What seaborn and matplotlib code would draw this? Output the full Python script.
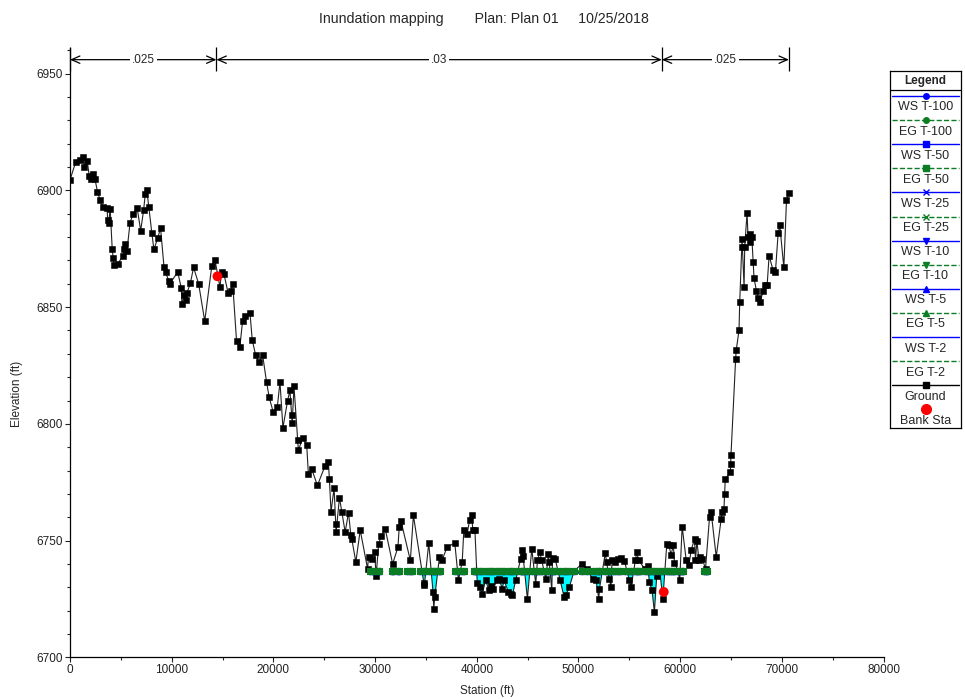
import matplotlib
matplotlib.use('Agg')
import matplotlib.pyplot as plt
import seaborn as sns
import pandas as pd
import numpy as np

# ground points (station ft / elevation ft)
station = [0, 550, 1000, 1300, 1400, 1700, 1900, 2100, 2300, 2450,
           2700, 2950, 3250, 3650, 3700, 3800, 3950, 4150, 4250, 4350,
           4700, 5200, 5350, 5450, 5600, 5900, 6200, 6600, 6950, 7250,
           7400, 7550, 7750, 8050, 8250, 8650, 8900, 9250, 9400, 9700,
           9800, 10600, 10950, 11000, 11250, 11400, 11500, 11850, 12150, 12650,
           13250, 13950, 14250, 14750, 14900, 15150, 15550, 15800, 16000, 16380,
           16700, 16970, 17200, 17700, 17920, 18250, 18570, 18940, 19330, 19590,
           19990, 20390, 20650, 20940, 21400, 21630, 21800, 21850, 22030, 22390,
           22460, 22880, 23280, 23440, 23770, 24330, 25080, 25410, 25510, 25670,
           25970, 26140, 26170, 26500, 26730, 27060, 27390, 27620, 27720, 28110,
           28540, 29260, 29360, 29690, 29950, 30110, 30350, 30610, 31000, 31730,
           32250, 32380, 32550, 33470, 33770, 34790, 34850, 35280, 35700, 35770,
           35870, 36330, 36600, 37090, 37840, 38200, 38570, 38730, 39060, 39290,
           39490, 39620, 39820, 40050, 40280, 40540, 40870, 41200, 41360, 41600,
           42020, 42190, 42510, 42680, 43110, 43330, 43500, 43830, 44320, 44420,
           44560, 44980, 45410, 45800, 45970, 46200, 46390, 46790, 47050, 47120,
           47380, 47450, 47710, 48200, 48590, 48760, 49100, 49580, 50340, 50800,
           51410, 51740, 52000, 52070, 52640, 52770, 53040, 53200, 53300, 53630,
           53860, 54180, 54520, 55010, 55170, 55600, 55730, 55930, 56500, 56820,
           56980, 57240, 57470, 57700, 58000, 58300, 58690, 58890, 59110, 59340,
           59440, 59800, 59960, 60200, 60600, 60860, 61090, 61420, 61510, 61650,
           61850, 61980, 62170, 62500, 62890, 63050, 63550, 64040, 64140, 64310,
           64380, 64440, 64940, 64970, 65000, 65460, 65520, 65790, 65860, 66060,
           66090, 66290, 66350, 66580, 66680, 66850, 66900, 67050, 67180, 67270,
           67500, 67670, 67840, 68160, 68330, 68560, 68750, 69150, 69370, 69640,
           69800, 70200, 70460, 70730]
elevation = [6904.5, 6912, 6913, 6914.5, 6910, 6912.5, 6906, 6905, 6907, 6905,
             6899.5, 6896, 6892.8, 6892.4, 6887.5, 6886, 6892, 6875, 6871, 6868,
             6868.5, 6872, 6875, 6877, 6874, 6886, 6890, 6892.6, 6882.8, 6891.8,
             6898.6, 6900, 6893, 6881.6, 6874.7, 6879.8, 6884, 6867, 6865, 6861.4,
             6860, 6865, 6858, 6851.5, 6855, 6853, 6856, 6860.5, 6867, 6860,
             6844, 6867.8, 6870.4, 6858.5, 6865, 6864, 6856, 6857, 6860, 6835.4,
             6832.8, 6844, 6846.4, 6847.5, 6836, 6829.5, 6826.4, 6829.5, 6817.9, 6811.3,
             6805, 6807.4, 6817.9, 6798.3, 6810, 6814.3, 6803.6, 6800.3, 6816, 6793,
             6788.6, 6794, 6790.8, 6778.6, 6780.7, 6773.6, 6782, 6783.6, 6776.2, 6762.2,
             6772.6, 6757, 6753.6, 6768.4, 6762.2, 6753.6, 6762, 6752.2, 6750.5, 6740.8,
             6754.5, 6738, 6743, 6742.2, 6745, 6735, 6748.6, 6752, 6755, 6740,
             6747.2, 6756, 6758.3, 6741.5, 6760.8, 6732, 6730.8, 6749, 6728, 6720.8,
             6725.8, 6743, 6741.8, 6747.2, 6749, 6733, 6741, 6754.5, 6753, 6758.6,
             6760.8, 6754.4, 6754.4, 6731.7, 6730.1, 6727.2, 6733, 6728.7, 6730.4, 6729.4,
             6733, 6733.6, 6729.4, 6733, 6728, 6727.2, 6726.5, 6733, 6742.2, 6745.8,
             6743.2, 6725, 6746.5, 6731.4, 6741.5, 6745, 6741.5, 6733.5, 6744.4, 6741,
             6728.7, 6742.7, 6742.2, 6733, 6725.8, 6726.5, 6730, 6737, 6740, 6738,
             6733.5, 6733, 6725, 6729.4, 6744.6, 6740.8, 6733.5, 6730, 6741.5, 6741,
             6742.2, 6742.7, 6741.3, 6733, 6730, 6741.5, 6745, 6741.5, 6738, 6739,
             6732.2, 6728.7, 6719.4, 6735, 6737, 6725, 6748.6, 6748, 6744, 6748,
             6740.4, 6737, 6733, 6756, 6741.5, 6739.4, 6746, 6750.7, 6741.5, 6750,
             6741.5, 6743, 6742.2, 6738, 6760, 6762.2, 6743, 6759.4, 6762.2, 6763.6,
             6770, 6776.4, 6779.3, 6782.8, 6786.5, 6827.9, 6831.7, 6840, 6852, 6875.7,
             6879.2, 6858.5, 6875.6, 6890.3, 6880, 6877.8, 6881.4, 6880, 6869.2, 6862.4,
             6857, 6854, 6852.1, 6856.7, 6859.6, 6859.6, 6872, 6865.7, 6865, 6881.7,
             6885, 6867, 6895.8, 6899]

bank_sta = [14500, 58390]
bank_elev = [6863.2, 6728.0]

# manning's n regions
n_breaks = [0, 14400, 58200, 70700]
n_values = ['.025', '.03', '.025']

# reaches where the water surface is drawn
wet_start = [29500, 31660, 33150, 34430, 37880, 39750, 54600, 56100, 62350]
wet_end = [30380, 32350, 33640, 36400, 38700, 54100, 55850, 60250, 62600]

profiles = ['T-100', 'T-50', 'T-25', 'T-10', 'T-5', 'T-2']
ws_elev = [6736.5, 6736.5, 6736.5, 6736.5, 6736.5, 6736.5]
eg_elev = [6737.0, 6737.0, 6737.0, 6737.0, 6737.0, 6737.0]
prof_markers = ['o', 's', 'x', 'v', '^', '']

WS_COL = '#0000ff'
EG_COL = '#0b7d24'
FS = 8.5

sns.set_theme(style='ticks')
plt.rcParams['font.family'] = ['Liberation Sans', 'DejaVu Sans']

ground = pd.DataFrame({'station': station, 'elev': elevation})

rows = []
for k, (a, b) in enumerate(zip(wet_start, wet_end)):
    inside = ground.loc[(ground.station > a) & (ground.station < b), 'station'].tolist()
    for s in [a] + inside + [b]:
        rows.append((k, s))
wet = pd.DataFrame(rows, columns=['seg', 'station'])

fig = plt.figure(figsize=(9.65, 6.99), dpi=100)
ax = fig.add_axes([70 / 965, 1 - 657.3 / 699, 813.5 / 965, 609.3 / 699])

# water fill
ws0 = ws_elev[0]
ax.fill_between(ground.station, ground.elev, ws0, where=ground.elev < ws0,
                interpolate=True, color='#00ffff', lw=0, zorder=1.5)

# ground
sns.lineplot(data=ground, x='station', y='elev', sort=False, color='#222222', lw=0.8,
             marker='s', markersize=4, mew=0.4, mec='black', mfc='black', ax=ax, zorder=2)

# water surface / energy grade lines
for p, ws, m in zip(profiles, ws_elev, prof_markers):
    sns.lineplot(data=wet.assign(elev=ws), x='station', y='elev', units='seg',
                 estimator=None, color=WS_COL, lw=1.0, marker=m or None, markersize=3,
                 mec=WS_COL, mfc=WS_COL, ax=ax, zorder=3)
for p, eg, m in zip(profiles, eg_elev, prof_markers):
    sns.lineplot(data=wet.assign(elev=eg), x='station', y='elev', units='seg',
                 estimator=None, color=EG_COL, lw=1.0, ls='--', marker=m or None,
                 markersize=4.5, mec=EG_COL, mfc=EG_COL, ax=ax, zorder=3.5)

sns.scatterplot(x=bank_sta, y=bank_elev, color='red', s=50, edgecolor='none', ax=ax, zorder=5)

# manning's n bar
ybar = 6956
ax.vlines(n_breaks, 6951, 6961.5, color='black', lw=0.9, clip_on=False)
for a, b, n in zip(n_breaks[:-1], n_breaks[1:], n_values):
    ax.annotate('', xy=(b, ybar), xytext=(a, ybar), annotation_clip=False,
                arrowprops=dict(arrowstyle='<->,head_length=0.5,head_width=0.22',
                                lw=0.9, color='black', shrinkA=0, shrinkB=0))
    ax.text((a + b) / 2, ybar, n, ha='center', va='center', fontsize=FS,
            bbox=dict(fc='white', ec='none', pad=1.5), zorder=6)

ax.set_xlim(0, 80000)
ax.set_ylim(6700, 6961)
ax.set_xticks(np.arange(0, 80001, 10000))
ax.set_xticks(np.arange(0, 80001, 5000), minor=True)
ax.set_yticks(np.arange(6700, 6951, 50))
ax.set_yticks(np.arange(6700, 6961, 10), minor=True)
ax.tick_params(which='major', length=3.6, width=0.8, direction='out', labelsize=FS, pad=1.5, colors='#222222')
ax.tick_params(which='minor', length=2.2, width=0.8, direction='out')
sns.despine(ax=ax)
for sp in ['left', 'bottom']:
    ax.spines[sp].set_linewidth(0.9)
    ax.spines[sp].set_color('black')
ax.set_xlabel('Station (ft)', fontsize=FS)
ax.set_ylabel('Elevation (ft)', fontsize=FS)
ax.xaxis.set_label_coords((487 - 70) / 813.5, (657.3 - 691) / 609.3)
ax.yaxis.set_label_coords((17 - 70) / 813.5, (657.3 - 394) / 609.3)
ax.xaxis.label.set_va('center')
ax.yaxis.label.set_va('center')
ax.grid(False)

fig.text(484 / 965, 1 - 19 / 699, 'Inundation mapping        Plan: Plan 01     10/25/2018',
         ha='center', va='center', fontsize=10.2)

# legend box drawn in HEC-RAS style (line sample above label)
lax = fig.add_axes([890 / 965, 1 - 428 / 699, 71 / 965, 357 / 699])
lax.set_xlim(0, 1)
lax.set_ylim(357, 0)
lax.set_xticks([])
lax.set_yticks([])
lax.set_facecolor('white')
for sp in lax.spines.values():
    sp.set_linewidth(0.9)
    sp.set_color('black')
lax.axhline(19, color='black', lw=0.9)
lax.text(0.5, 10, 'Legend', ha='center', va='center', fontsize=FS, weight='bold')

entries = []
for p, m in zip(profiles, prof_markers):
    entries.append(('WS ' + p, WS_COL, '-', m))
    entries.append(('EG ' + p, EG_COL, '--', m))
entries.append(('Ground', 'black', '-', 's'))
entries.append(('Bank Sta', 'red', '', 'o'))

step = 24.1
for i, (lab, col, ls, m) in enumerate(entries):
    y0 = 19 + step * i + 6
    if ls:
        lax.plot([0.03, 0.97], [y0, y0], color=col, ls=ls, lw=1.0)
    if m:
        ms = 7 if lab == 'Bank Sta' else 4
        lax.plot([0.5], [y0], marker=m, color=col, ms=ms, mec=col, mfc=col, ls='none')
    lax.text(0.5, y0 + 11.5, lab, ha='center', va='center', fontsize=9)

fig.savefig('out.png', dpi=100)
